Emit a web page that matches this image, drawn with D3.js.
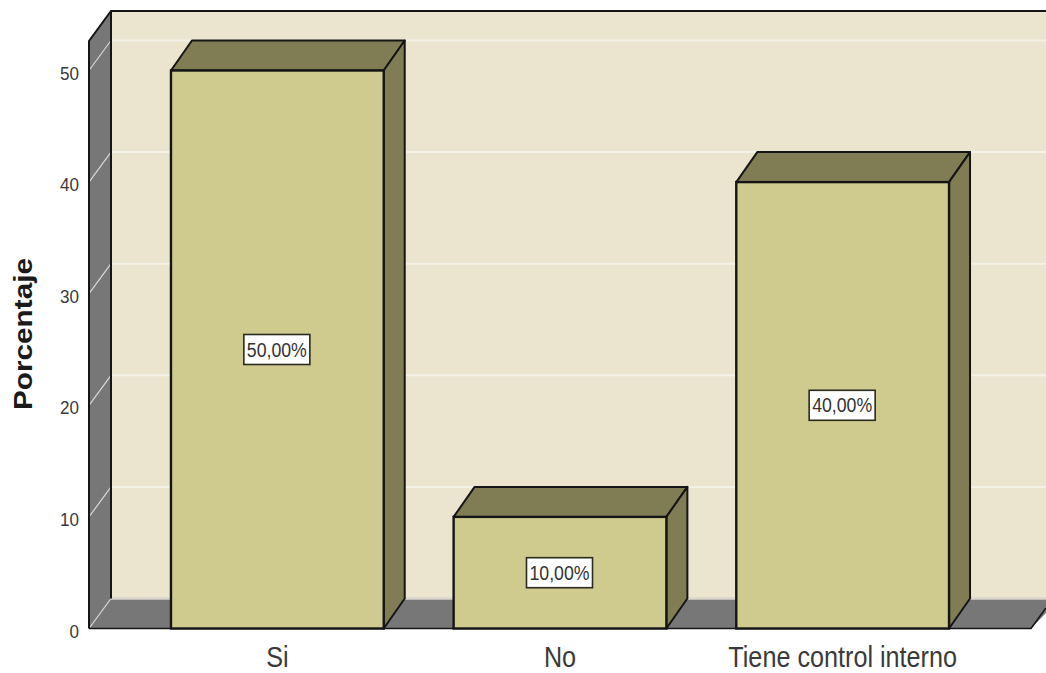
<!DOCTYPE html>
<html><head><meta charset="utf-8">
<script src="https://cdn.jsdelivr.net/npm/d3@7/dist/d3.min.js"></script>
<style>html,body{margin:0;padding:0;background:#fff}svg{display:block}text{font-family:"Liberation Sans",Arial,sans-serif}</style>
</head><body>
<svg id="c" width="1046" height="673"></svg>
<script>
const categories = ["Si", "No", "Tiene control interno"];
const values = [50, 10, 40];
const valueLabels = ["50,00%", "10,00%", "40,00%"];
const yTicks = [0, 10, 20, 30, 40, 50];
const yTitle = "Porcentaje";

const svg = d3.select("#c");
const y = d3.scaleLinear().domain([0, 50]).range([628.5, 70.5]);
const x = d3.scaleBand().domain(categories).range([89, 1031]).paddingInner(0.2473).paddingOuter(0.29);
const dx = 22, dy = -30, wallTop = 41;
const ink = "#151515", sideGrey = "#777777", wall = "#ebe5d0", faceFill = "#cfca8d", dark = "#807d55", grid = "#f4f1e6";
const poly = pts => pts.map(p => p.join(",")).join(" ");
const y0 = y(0);

// back wall
svg.append("rect").attr("x", 89 + dx).attr("y", wallTop + dy).attr("width", 1046 - 89 - dx + 2).attr("height", y0 - wallTop)
  .attr("fill", wall);
// floor and left wall
svg.append("polygon").attr("points", poly([[89, y0], [89 + dx, y0 + dy], [1060, y0 + dy], [1031, y0]])).attr("fill", sideGrey);
svg.append("polygon").attr("points", poly([[89, wallTop], [89 + dx, wallTop + dy], [89 + dx, y0 + dy], [89, y0]])).attr("fill", sideGrey);

// gridlines
svg.append("g").selectAll("line").data(yTicks.filter(t => t > 0)).join("line")
  .attr("x1", 89 + dx).attr("x2", 1046).attr("y1", d => y(d) + dy).attr("y2", d => y(d) + dy)
  .attr("stroke", grid).attr("stroke-width", 2);
svg.append("g").selectAll("line").data(yTicks).join("line")
  .attr("x1", 89).attr("x2", 89 + dx).attr("y1", d => y(d)).attr("y2", d => y(d) + dy)
  .attr("stroke", "#d8d8d8").attr("stroke-width", 1.2);
svg.append("line").attr("x1", 89 + dx).attr("x2", 1046).attr("y1", y0 + dy).attr("y2", y0 + dy)
  .attr("stroke", "#d9d6cb").attr("stroke-width", 2.5);

// frame
svg.append("path").attr("d", `M89,${y0}V${wallTop}L${89 + dx},${wallTop + dy}H1046M${89 + dx},${wallTop + dy}V${y0 + dy}`)
  .attr("fill", "none").attr("stroke", ink).attr("stroke-width", 2);
svg.append("path").attr("d", `M89,${y0}H1031L1046,${y0 - 20.5}`)
  .attr("fill", "none").attr("stroke", ink).attr("stroke-width", 1.6);

// bars
const bars = svg.append("g").selectAll("g").data(categories.map((c, i) => ({c, v: values[i], l: valueLabels[i]}))).join("g");
const bw = x.bandwidth();
bars.append("polygon").attr("points", d => { const a = x(d.c), t = y(d.v);
  return poly([[a, t], [a + dx - 1, t + dy], [a + bw + dx - 1, t + dy], [a + bw, t]]); })
  .attr("fill", dark).attr("stroke", ink).attr("stroke-width", 2).attr("stroke-linejoin", "round");
bars.append("polygon").attr("points", d => { const a = x(d.c), t = y(d.v);
  return poly([[a + bw, t], [a + bw + dx - 1, t + dy], [a + bw + dx - 1, y0 + dy], [a + bw, y0]]); })
  .attr("fill", dark).attr("stroke", ink).attr("stroke-width", 2).attr("stroke-linejoin", "round");
bars.append("rect").attr("x", d => x(d.c)).attr("y", d => y(d.v)).attr("width", bw).attr("height", d => y0 - y(d.v))
  .attr("fill", faceFill).attr("stroke", ink).attr("stroke-width", 2.4);

// value labels
const lw = 66, lh = 30;
bars.append("rect").attr("x", d => x(d.c) + bw / 2 - lw / 2 - 0.5).attr("y", d => y(d.v / 2) - lh / 2)
  .attr("width", lw).attr("height", lh).attr("fill", "#fff").attr("stroke", "#2a2a20").attr("stroke-width", 1.6);
bars.append("text").attr("x", d => x(d.c) + bw / 2 - 0.5).attr("y", d => y(d.v / 2) + 7).attr("text-anchor", "middle")
  .attr("font-size", 20).attr("fill", "#333").attr("textLength", 60).attr("lengthAdjust", "spacingAndGlyphs").text(d => d.l);

// axes text
const yAxis = d3.axisLeft(y).tickValues(yTicks).tickSize(0).tickPadding(0);
const ga = svg.append("g").attr("transform", "translate(79,2.5)").call(yAxis);
ga.select(".domain").remove();
ga.selectAll("text").attr("font-size", 19).attr("font-family", '"Liberation Sans",Arial,sans-serif').attr("fill", "#3a3a3a")
  .attr("x", 0).attr("transform", "scale(0.9,1)");
const xAxis = d3.axisBottom(x).tickSize(0).tickPadding(17);
const gx = svg.append("g").attr("transform", `translate(0,${y0})`).call(xAxis);
gx.select(".domain").remove();
gx.selectAll("text").attr("font-size", 30).attr("font-family", '"Liberation Sans",Arial,sans-serif').attr("fill", "#3a3a3a")
  .attr("transform", "scale(0.84,1)");
svg.append("text").attr("transform", "translate(32,334) rotate(-90)").attr("text-anchor", "middle")
  .attr("font-size", 25).attr("font-weight", "bold").attr("fill", "#1a1a1a")
  .attr("textLength", 152).attr("lengthAdjust", "spacingAndGlyphs").text(yTitle);
</script>
</body></html>
